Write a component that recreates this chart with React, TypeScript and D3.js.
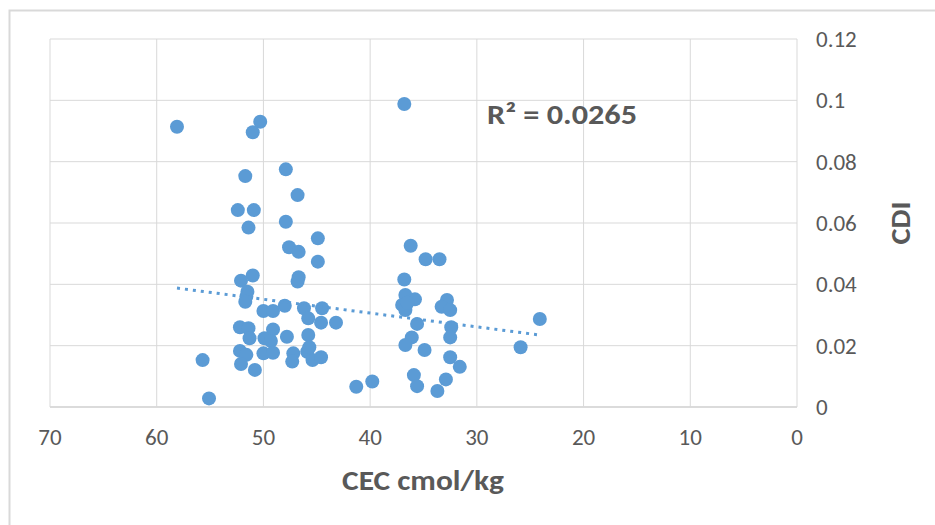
import React, { useEffect } from 'react';
import * as d3 from 'd3';

// CEC (cmol/kg) and CDI, point by point
const cecValues = [
  58.1, 50.3, 51.0, 36.8, 47.9, 51.7, 46.8, 52.4, 50.9, 47.9, 51.4, 44.9,
  47.6, 46.7, 44.9, 36.2, 34.8, 33.5, 52.1, 51.0, 46.7, 46.8, 36.8,
  51.5, 51.6, 51.7, 50.0, 49.1, 48.0, 46.2, 45.8, 44.5, 44.6, 43.2,
  52.2, 51.4, 51.3, 49.1, 49.9, 49.3, 47.8, 45.8,
  52.2, 51.6, 50.0, 49.1, 47.2, 47.3, 45.9, 45.4, 44.6, 45.7, 52.1, 50.8,
  55.7, 55.1, 41.3, 39.8,
  36.7, 35.8, 37.0, 36.7, 36.5, 35.6, 32.8, 33.3, 32.5, 32.4, 32.5, 36.1,
  36.7, 34.9, 32.5, 31.6, 35.9, 35.6, 32.9, 33.7, 24.1, 25.9
];
const cdiValues = [
  0.0914, 0.093, 0.0896, 0.0988, 0.0775, 0.0753, 0.0691, 0.0642, 0.0642, 0.0604, 0.0585, 0.055,
  0.0521, 0.0506, 0.0474, 0.0526, 0.0482, 0.0482, 0.0412, 0.0429, 0.0423, 0.0409, 0.0416,
  0.0376, 0.036, 0.0343, 0.0313, 0.0313, 0.033, 0.0322, 0.0289, 0.0322, 0.0275, 0.0275,
  0.026, 0.0257, 0.0224, 0.0253, 0.0224, 0.0215, 0.0229, 0.0235,
  0.0183, 0.017, 0.0175, 0.0177, 0.0175, 0.0148, 0.018, 0.0153, 0.0162, 0.0195, 0.014, 0.0121,
  0.0153, 0.0028, 0.0066, 0.0083,
  0.0365, 0.0351, 0.0333, 0.0316, 0.034, 0.0271, 0.0349, 0.0327, 0.0316, 0.026, 0.0227, 0.0227,
  0.0202, 0.0186, 0.0162, 0.0131, 0.0104, 0.0068, 0.009, 0.0052, 0.0287, 0.0195
];

const xTicks = [70, 60, 50, 40, 30, 20, 10, 0];
const yTicks = [0, 0.02, 0.04, 0.06, 0.08, 0.1, 0.12];

// linear trend as shown in the picture
const trendSlope = 0.00045;
const trendIntercept = 0.01263;
const rSquaredLabel = 'R² = 0.0265';

const font = 'Carlito, Calibri, Lato, sans-serif';
const blue = '#5b9bd5';
const textGray = '#595959';
const gridGray = '#d9d9d9';

export default function App() {
  useEffect(() => {
    document.body.style.margin = '0';
  }, []);

  const width = 935;
  const height = 525;

  const x = d3.scaleLinear().domain([70, 0]).range([50, 797]);
  const y = d3.scaleLinear().domain([0, 0.12]).range([407, 39]);

  const points = cecValues.map((c, i) => ({ c, d: cdiValues[i] }));
  const [minC, maxC] = d3.extent(cecValues) as [number, number];
  const trend = d3
    .line<number>()
    .x(c => x(c))
    .y(c => y(trendSlope * c + trendIntercept));

  return (
    <svg width={width} height={height} style={{ display: 'block', background: '#fff' }}>
      <rect x={9.5} y={10.5} width={width + 10} height={height + 10} fill="#fff" stroke={gridGray} strokeWidth={2} />

      <g>
        {yTicks.map(t => (
          <line key={'gy' + t} x1={x(70)} x2={x(0)} y1={y(t)} y2={y(t)} stroke={t === 0 ? '#cfcfcf' : gridGray} strokeWidth={t === 0 ? 1.5 : 1} />
        ))}
        {xTicks.map(t => (
          <line key={'gx' + t} x1={x(t)} x2={x(t)} y1={y(0)} y2={y(0.12)} stroke={gridGray} strokeWidth={1} />
        ))}
      </g>

      <g>
        {points.map((p, i) => (
          <circle key={i} cx={x(p.c)} cy={y(p.d)} r={7} fill={blue} />
        ))}
      </g>

      <path
        d={trend([maxC, minC]) || ''}
        fill="none"
        stroke={blue}
        strokeWidth={3}
        strokeDasharray="3 5"
      />

      <g fontFamily={font} fill={textGray}>
        {xTicks.map(t => (
          <text key={'tx' + t} x={x(t)} y={445} fontSize={23} textAnchor="middle">
            {t}
          </text>
        ))}
        {yTicks.map(t => (
          <text key={'ty' + t} x={816} y={y(t) + 8} fontSize={23}>
            {t}
          </text>
        ))}
        <text x={342} y={490} fontSize={29} fontWeight="bold" textLength={162} lengthAdjust="spacingAndGlyphs">
          CEC cmol/kg
        </text>
        <text
          transform={`translate(910, ${y(0.06) + 21.5}) rotate(-90)`}
          fontSize={28}
          fontWeight="bold"
          textLength={43}
          lengthAdjust="spacingAndGlyphs"
        >
          CDI
        </text>
        <text x={487} y={124} fontSize={28} fontWeight="bold" textLength={150} lengthAdjust="spacingAndGlyphs">
          {rSquaredLabel}
        </text>
      </g>
    </svg>
  );
}
